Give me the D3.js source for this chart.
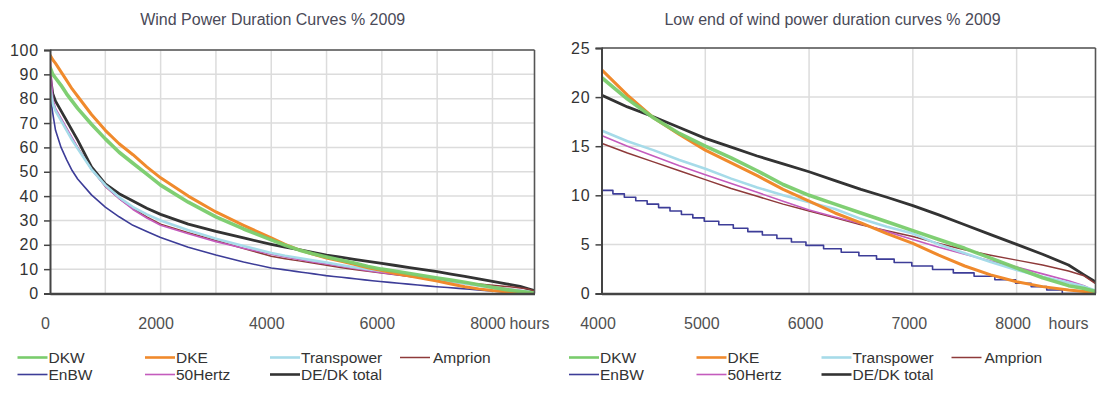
<!DOCTYPE html>
<html><head><meta charset="utf-8">
<script src="https://cdn.jsdelivr.net/npm/d3@7/dist/d3.min.js"></script>
<style>
html,body{margin:0;padding:0;background:#fff;}
svg{display:block;}
text{font-family:"Liberation Sans",Arial,sans-serif;}
</style>
</head><body>
<svg id="c" width="1097" height="393"></svg>
<script>
// ---------- data (percent of installed capacity vs. hours of the year) ----------
const hours = [0,50,100,200,300,400,500,750,1000,1250,1500,1750,2000,2500,3000,3500,4000,4250,4500,4750,5000,5250,5500,5750,6000,6250,6500,6750,7000,7250,7500,7750,8000,8250,8500,8650,8760];
const dkw = [93,90,88.5,85.5,82,79,76,69.5,63.5,58,53.5,49,44.5,37.5,31.5,26.5,22,19.8,17.9,16.3,15.0,13.8,12.5,11.1,10.0,9.1,8.2,7.3,6.4,5.5,4.6,3.6,2.6,1.6,0.8,0.5,0.2];
const dke = [98,96,94.5,91,87.5,84,81,73.5,67,61.5,57,52,47.5,40,33.5,28,22.8,20.2,17.9,16.2,14.6,13.3,12.0,10.6,9.4,8.2,7.2,6.1,5.1,3.9,2.8,1.9,1.2,0.7,0.35,0.2,0.1];
const transpower = [85,78,75,71,67,63,59.5,51,44.5,39.5,35.5,32.5,30,26,22.5,19.5,16.6,15.5,14.6,13.6,12.7,11.7,10.8,10.0,9.3,8.6,7.6,6.8,6.1,5.0,4.1,3.2,2.4,1.7,1.1,0.7,0.3];
const amprion = [88,79,75.5,71.5,67.5,63.5,60,51,44,39,35,31.5,28.5,25,21.8,18.5,15.3,14.3,13.4,12.5,11.6,10.7,9.9,9.1,8.4,7.7,7.0,6.4,5.8,5.1,4.45,3.9,3.4,2.9,2.3,1.8,1.0];
const hertz50 = [98,80,76,72,68,64,60,51,44,39,34.5,31,28,24.5,21.3,18.6,16.1,15.0,14.0,13.0,12.1,11.2,10.3,9.4,8.5,7.8,7.1,6.3,5.5,4.7,4.0,3.3,2.7,2.0,1.3,0.8,0.2];
const total = [90,82,79,75,71,67,63,52,45,41,38,35,32.5,28.5,25.5,22.8,20.2,19.0,18.0,16.9,15.8,14.9,14.0,13.2,12.4,11.5,10.6,9.8,8.95,8.0,7.0,6.0,5.0,4.0,2.9,1.9,1.2];
// EnBW is read with its own (denser) hour points because of its stepped shape
const enbwHours = [0,25,50,100,200,300,400,500,750,1000,1250,1500,1750,2000,2500,3000,3500,
  4000,4110,4220,4330,4440,4550,4660,4770,4880,4990,5130,5270,5410,5550,5690,5830,5970,
  6140,6310,6480,6650,6820,6990,7190,7390,7590,7790,7990,8140,8290,8440,8760];
const enbwValues = [87,78,74,67,60,55,50.5,47,40.5,35.5,31.5,28,25.5,23,19,15.8,12.9,
  10.5,10.15,9.8,9.45,9.1,8.75,8.4,8.05,7.7,7.35,7.0,6.65,6.3,5.95,5.6,5.25,4.9,
  4.55,4.2,3.85,3.5,3.15,2.8,2.45,2.1,1.75,1.4,1.05,0.7,0.35,0,0];

const seriesNames = ["DKW","DKE","Transpower","Amprion","EnBW","50Hertz","DE/DK total"];
const titles = ["Wind Power Duration Curves % 2009","Low end of wind power duration curves % 2009"];
const leftXTicks = [0,2000,4000,6000,8000];
const leftYTicks = [0,10,20,30,40,50,60,70,80,90,100];
const rightXTicks = [4000,5000,6000,7000,8000];
const rightYTicks = [0,5,10,15,20,25];
const unitLabel = "hours";

// ---------- styles ----------
const style = {
  "DKW":        {color:"#79cc6c", width:3.6, opacity:0.95},
  "DKE":        {color:"#f08a2c", width:3.0, opacity:1},
  "Transpower": {color:"#a6dbe9", width:2.6, opacity:1},
  "Amprion":    {color:"#8e3a3a", width:1.5, opacity:1},
  "EnBW":       {color:"#3d3d98", width:1.6, opacity:1},
  "50Hertz":    {color:"#c45bbd", width:1.6, opacity:1},
  "DE/DK total":{color:"#333333", width:2.8, opacity:1}
};
const seriesData = {
  "DKW": hours.map((h,i)=>[h,dkw[i]]),
  "DKE": hours.map((h,i)=>[h,dke[i]]),
  "Transpower": hours.map((h,i)=>[h,transpower[i]]),
  "Amprion": hours.map((h,i)=>[h,amprion[i]]),
  "EnBW": enbwHours.map((h,i)=>[h,enbwValues[i]]),
  "50Hertz": hours.map((h,i)=>[h,hertz50[i]]),
  "DE/DK total": hours.map((h,i)=>[h,total[i]])
};
const drawOrder = ["DE/DK total","Amprion","EnBW","50Hertz","Transpower","DKE","DKW"];

const svg = d3.select("#c");

function panel(cfg, idx){
  const x = d3.scaleLinear().domain(cfg.xDomain).range([cfg.left, cfg.right]);
  const y = d3.scaleLinear().domain(cfg.yDomain).range([cfg.bottom, cfg.top]);
  const g = svg.append("g");

  // title
  g.append("text").attr("x", cfg.titleX).attr("y", 24.5).attr("text-anchor","middle")
    .attr("font-size", 16).attr("fill", "#4a4a58").text(cfg.title);

  // grid
  g.append("g").selectAll("line").data(cfg.gridX).join("line")
    .attr("x1", d=>x(d)).attr("x2", d=>x(d)).attr("y1", cfg.top).attr("y2", cfg.bottom)
    .attr("stroke","#dcdcdc").attr("stroke-width",1.5);
  g.append("g").selectAll("line").data(cfg.yTicks.slice(1)).join("line")
    .attr("x1", cfg.left).attr("x2", cfg.right).attr("y1", d=>y(d)).attr("y2", d=>y(d))
    .attr("stroke","#dcdcdc").attr("stroke-width",1.5);

  // lines
  const clipId = "clip"+idx;
  svg.append("defs").append("clipPath").attr("id", clipId).append("rect")
    .attr("x", cfg.left).attr("y", cfg.top - 2).attr("width", cfg.right - cfg.left).attr("height", cfg.bottom - cfg.top + 2);
  const lg = g.append("g").attr("clip-path", `url(#${clipId})`);
  drawOrder.forEach(name => {
    const curve = (name === "EnBW" && cfg.stepEnbw) ? d3.curveStepAfter : d3.curveLinear;
    const line = d3.line().x(d=>x(d[0])).y(d=>y(d[1])).curve(curve);
    lg.append("path").datum(seriesData[name]).attr("d", line)
      .attr("fill","none").attr("stroke", style[name].color)
      .attr("stroke-width", style[name].width).attr("stroke-opacity", style[name].opacity)
      .attr("stroke-linejoin","round");
  });

  // frame: top and right border
  g.append("line").attr("x1",cfg.left).attr("x2",cfg.right).attr("y1",cfg.top).attr("y2",cfg.top)
    .attr("stroke","#555").attr("stroke-width",1.6);
  g.append("line").attr("x1",cfg.right).attr("x2",cfg.right).attr("y1",cfg.top).attr("y2",cfg.bottom)
    .attr("stroke","#555").attr("stroke-width",1.6);

  // y axis
  const yAxis = d3.axisLeft(y).tickValues(cfg.yTicks).tickSize(6).tickPadding(5).tickFormat(d3.format("d"));
  const ya = g.append("g").attr("transform", `translate(${cfg.left},0)`).call(yAxis);
  ya.select(".domain").attr("stroke","#444").attr("stroke-width",2);
  ya.selectAll(".tick line").attr("stroke","#444").attr("stroke-width",1.5);
  ya.selectAll(".tick text").attr("font-size",16).attr("fill","#333").attr("letter-spacing","0.8px")
    .attr("font-family","'Liberation Sans',Arial,sans-serif");

  // x axis (no tick marks)
  const xAxis = d3.axisBottom(x).tickValues(cfg.xTicks).tickSize(0).tickPadding(0).tickFormat(d3.format("d"));
  const xa = g.append("g").attr("transform", `translate(0,${cfg.bottom})`).call(xAxis);
  xa.select(".domain").attr("stroke","#444").attr("stroke-width",2.4);
  xa.selectAll(".tick text").attr("font-size",16).attr("fill","#505050")
    .attr("font-family","'Liberation Sans',Arial,sans-serif")
    .attr("dy",0).attr("y", 35).attr("dx", cfg.labelDx);
  // unit label
  g.append("text").attr("x", cfg.unitX(x)).attr("y", cfg.bottom + 35)
    .attr("text-anchor", cfg.unitAnchor).attr("font-size",16).attr("fill","#505050").text(unitLabel);

  // legend
  const cols = [-32.5, 95, 220, 350];
  const rows = [357.5, 374.5];
  const layout = [[0,0],[0,1],[0,2],[0,3],[1,0],[1,1],[1,2]];
  seriesNames.forEach((name,i)=>{
    const [r,c] = layout[i];
    const lx = cfg.left + cols[c], ly = rows[r];
    g.append("line").attr("x1", lx).attr("x2", lx+30).attr("y1", ly).attr("y2", ly)
      .attr("stroke", style[name].color).attr("stroke-width", Math.min(style[name].width, 2.6));
    g.append("text").attr("x", lx + (c===3 ? 33 : 31)).attr("y", ly + 5.5)
      .attr("font-size", 15.5).attr("fill", "#333").text(name);
  });
}

panel({
  left:50, right:534.5, top:50, bottom:293.5,
  xDomain:[0,8760], yDomain:[0,100],
  xTicks:leftXTicks, yTicks:leftYTicks,
  gridX:[1000,2000,3000,4000,5000,6000,7000,8000],
  title:titles[0], titleX:272.7, labelDx:-5,
  unitX: x => x(leftXTicks[leftXTicks.length-1]) + 17, unitAnchor:"start",
  stepEnbw:false
}, 0);

panel({
  left:601.5, right:1095.5, top:48, bottom:293.5,
  xDomain:[4000,8760], yDomain:[0,25],
  xTicks:rightXTicks, yTicks:rightYTicks,
  gridX:[5000,6000,7000,8000],
  title:titles[1], titleX:832.5, labelDx:-4,
  unitX: x => x(8500), unitAnchor:"middle",
  stepEnbw:true
}, 1);
</script>
</body></html>
